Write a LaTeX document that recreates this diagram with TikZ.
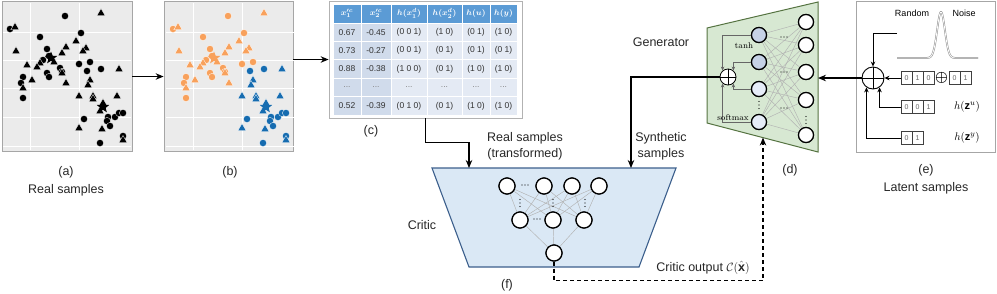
\documentclass[tikz,border=0pt]{standalone}
\usepackage{amsmath,bm}
\usepackage{fontspec}
\setmainfont{Liberation Sans}
\newfontfamily\lmr{Latin Modern Roman}
\usetikzlibrary{arrows.meta,calc,shapes.geometric}
\definecolor{colo}{RGB}{248,161,92}
\definecolor{colb}{RGB}{22,108,176}
\definecolor{plotbg}{RGB}{235,235,235}
\definecolor{thead}{RGB}{91,155,213}
\definecolor{tdk}{RGB}{208,219,235}
\definecolor{tlt}{RGB}{228,234,244}
\definecolor{critfill}{RGB}{218,232,245}
\definecolor{critedge}{RGB}{60,95,140}
\definecolor{genfill}{RGB}{215,232,210}
\definecolor{genedge}{RGB}{85,115,65}
\definecolor{gdark}{RGB}{198,210,230}
\definecolor{glight}{RGB}{230,236,248}
\newcommand\hdt[2]{\foreach \k in {-3,0,3} \fill (#1+\k,#2) circle (0.65pt);}
\newcommand\vdt[2]{\foreach \k in {-3.5,0,3.5} \fill (#1,#2+\k) circle (0.65pt);}
\newcommand\trow[8]{%
  \node[tc,fill=tdk,minimum width=28pt] (#1-1) at (347,#2) {#3};
  \node[tc,fill=tdk,minimum width=30pt] (#1-2) at (376,#2) {#4};
  \node[tc,fill=tlt,minimum width=36pt] (#1-3) at (409,#2) {#5};
  \node[tc,fill=tlt,minimum width=35pt] (#1-4) at (444.5,#2) {#6};
  \node[tc,fill=tlt,minimum width=28pt] (#1-5) at (476,#2) {#7};
  \node[tc,fill=tlt,minimum width=27pt] (#1-6) at (503.5,#2) {#8};}
\begin{document}
\begin{tikzpicture}[x=1pt,y=-1pt,
 lbl/.style={font=\fontsize{12.5}{16}\selectfont, inner sep=0, text=black!85},
 arr/.style={-{Stealth[length=8pt,width=6.5pt]}, line width=1.1pt},
 earr/.style={-{Stealth[length=5pt,width=4.5pt]}, line width=0.9pt},
 garr/.style={-{Stealth[length=4pt,width=3.5pt]}, line width=0.9pt, draw=black!60},
 neuron/.style={circle, draw=black, line width=1.2pt, fill=white, minimum size=16pt, inner sep=0},
 gneuron/.style={neuron, minimum size=15pt},
 conn/.style={draw=black!30, line width=0.45pt},
 panel/.style={draw=black!35, line width=0.8pt, fill=plotbg, inner sep=0},
 tc/.style={rectangle, draw=white, line width=0.9pt, inner sep=0, minimum height=18.4pt, font=\fontsize{8.5}{10}\selectfont, text=black!80},
 th/.style={tc, fill=thead, text=white, minimum height=19pt, font=\fontsize{8}{9}\selectfont},
 bcell/.style={rectangle, draw=black!75, line width=0.6pt, fill=white, minimum width=11pt, minimum height=13pt, inner sep=0, font=\fontsize{7}{8}\selectfont, text=black!60},
]
\useasboundingbox (0,0) rectangle (997,293);

% ---------- panels (a) and (b)
\node[panel, minimum width=130pt, minimum height=150pt] (pa) at (67,76.5) {};
\node[panel, minimum width=129pt, minimum height=150pt] (pb) at (228.5,76.5) {};
\foreach \o in {0,163}{
  \foreach \gx in {30,79} \draw[white, line width=0.9pt] (\gx+\o,3) -- (\gx+\o,150);
  \foreach \gy in {32,60,88,117,146} \draw[white, line width=0.9pt] (3+\o,\gy) -- (131+\o,\gy);
}
\foreach \px/\py/\ty/\c in {
65/16/c/o, 40/37/c/o, 81/33/c/o, 10/29/c/o, 47/49/c/o, 49/56/c/o, 43/60/c/o, 47/73/c/o, 49/77/c/o, 60/68/c/o, 62/72/c/o, 79/64/c/o, 90/62/c/o, 87/71/c/b, 101/69/c/b, 23/77/c/o, 21/83/c/o, 23/98/c/o, 84/119/c/b, 100/143/c/b, 108/117/c/b, 107/121/c/b, 110/126/c/b, 115/117/c/b, 119/113/c/b, 123/113/c/b, 123/136/c/b,
101/13/t/o, 15/27/t/o, 16/51/t/o, 27/65/t/o, 32/80/t/o, 23/88/t/o, 66/47/t/o, 76/41/t/o, 62/53/t/o, 54/62/t/o, 40/63/t/o, 37/67/t/o, 62/73/t/o, 66/83/t/o, 86/48/t/o, 83/51/t/o, 90/80/t/b, 88/85/t/b, 119/69/t/b, 79/96/t/b, 93/96/t/b, 93/99/t/b, 117/96/t/b, 103/103/t/b, 100/111/t/b, 79/128/t/b, 102/129/t/b, 123/140/t/b}{
  \if\ty c
    \fill[black, draw=white, line width=0.3pt] (\px,\py) circle (3.6pt);
    \fill[col\c, draw=white, line width=0.3pt] (\px+163,\py) circle (3.6pt);
  \else
    \fill[black, draw=white, line width=0.3pt] (\px,\py-4.5) -- (\px+4.2,\py+2.7) -- (\px-4.2,\py+2.7) -- cycle;
    \fill[col\c, draw=white, line width=0.3pt] (\px+163,\py-4.5) -- (\px+167.2,\py+2.7) -- (\px+158.8,\py+2.7) -- cycle;
  \fi
}
\node[star, star points=5, star point ratio=2.3, fill=black, inner sep=0, minimum size=13pt] (sa1) at (51,58) {};
\node[star, star points=5, star point ratio=2.3, fill=black, inner sep=0, minimum size=13pt] (sa2) at (103,107) {};
\node[star, star points=5, star point ratio=2.3, fill=colo, inner sep=0, minimum size=13pt] (sb1) at (214,58) {};
\node[star, star points=5, star point ratio=2.3, fill=colb, inner sep=0, minimum size=13pt] (sb2) at (266,107) {};

\node[lbl] (la) at (66,172) {(a)};
\node[lbl] (lra) at (66,190) {Real samples};
\node[lbl] (lb) at (230,172) {(b)};
\draw[arr] (pa.east) -- (pb.west);

% ---------- table (c)
\node[draw=black!30, line width=0.8pt, fill=white, minimum width=193pt, minimum height=117pt, inner sep=0] (tbl) at (425.5,59.5) {};
\node[th,minimum width=28pt] (h-1) at (347,13.5) {$\bm{x^{\prime c}_{1}}$};
\node[th,minimum width=30pt] (h-2) at (376,13.5) {$\bm{x^{\prime c}_{2}}$};
\node[th,minimum width=36pt] (h-3) at (409,13.5) {$\bm{h(x^{d}_{1})}$};
\node[th,minimum width=35pt] (h-4) at (444.5,13.5) {$\bm{h(x^{d}_{2})}$};
\node[th,minimum width=28pt] (h-5) at (476,13.5) {$\bm{h(u)}$};
\node[th,minimum width=27pt] (h-6) at (503.5,13.5) {$\bm{h(y)}$};
\trow{r1}{32.2}{0.67}{-0.45}{(0 0 1)}{(1 0)}{(0 1)}{(1 0)}
\trow{r2}{50.6}{0.73}{-0.27}{(0 0 1)}{(0 1)}{(0 1)}{(0 1)}
\trow{r3}{69.0}{0.88}{-0.38}{(1 0 0)}{(0 1)}{(1 0)}{(1 0)}
\trow{r4}{87.4}{\color{black!50}...}{\color{black!50}...}{\color{black!50}...}{\color{black!50}...}{\color{black!50}...}{\color{black!50}...}
\trow{r5}{105.8}{0.52}{-0.39}{(0 1 0)}{(0 1)}{(1 0)}{(1 0)}
\node[lbl] (lc) at (371,131) {(c)};
\draw[arr] (pb.east |- tbl.west) -- (tbl.west);

% ---------- critic (f)
\draw[fill=critfill, draw=critedge, line width=1.1pt] (432,168) -- (676,168) -- (639,267) -- (469,267) -- cycle;
\coordinate (realin) at (469,168);
\coordinate (synin) at (631,168);
\node[neuron] (c1) at (507,186) {};
\node[neuron] (c2) at (544,186) {};
\node[neuron] (c3) at (572,186) {};
\node[neuron] (c4) at (599,186) {};
\node[neuron] (m1) at (520,220) {};
\node[neuron] (m2) at (553,220) {};
\node[neuron] (m3) at (584,220) {};
\node[neuron] (co) at (554,253) {};
\foreach \a in {c1,c2,c3,c4} \foreach \b in {m1,m2,m3} \draw[conn] (\a) -- (\b);
\foreach \b in {m1,m2,m3} \draw[conn] (\b) -- (co);
\foreach \n in {c1,c2,c3,c4,m1,m2,m3,co} \node[neuron] at (\n) {};
\hdt{525}{185}
\hdt{537}{219}
\vdt{520}{203}
\vdt{553}{203}
\vdt{585}{203}
\node[lbl] (lcrit) at (422,225) {Critic};
\node[lbl] (lf) at (507,285) {(f)};
\node[lbl, align=center] (lreal) at (525,146) {Real samples\\(transformed)};
\node[lbl, align=center] (lsyn) at (661,146) {Synthetic\\samples};
\draw[arr] (tbl.south) -- ++(0,24) -| (realin);

% ---------- generator (d)
\draw[fill=genfill, draw=genedge, line width=1pt] (707,28) -- (818,2) -- (818,152) -- (707,123) -- cycle;
\coordinate (genright) at (818,78);
\coordinate (genbot) at (763,137.6);
\node[gneuron, fill=gdark] (g1) at (759,35) {};
\node[gneuron, fill=gdark] (g2) at (759,62) {};
\node[gneuron, fill=glight] (g3) at (759,89) {};
\node[gneuron, fill=glight] (g4) at (759,122) {};
\node[gneuron] (q1) at (806,22) {};
\node[gneuron] (q2) at (806,45) {};
\node[gneuron] (q3) at (806,72) {};
\node[gneuron] (q4) at (806,100) {};
\node[gneuron] (q5) at (806,135) {};
\foreach \a in {g1,g2,g3,g4} \foreach \b in {q1,q2,q3,q4,q5} \draw[conn] (\a) -- (\b);
\node[gneuron, fill=gdark] at (g1) {};
\node[gneuron, fill=gdark] at (g2) {};
\node[gneuron, fill=glight] at (g3) {};
\node[gneuron, fill=glight] at (g4) {};
\foreach \n in {q1,q2,q3,q4,q5} \node[gneuron] at (\n) {};
\hdt{784}{37}
\hdt{784}{72}
\hdt{784}{108}
\vdt{759}{105}
\vdt{806}{120}
\node[circle, draw=black, line width=0.8pt, fill=white, minimum size=16pt, inner sep=0] (gplus) at (728,77) {};
\draw[line width=0.8pt] (gplus.north) -- (gplus.south) (gplus.west) -- (gplus.east);
\draw[garr] (g1.west) -| (gplus.130);
\draw[garr] (g2.west) -| (gplus.50);
\draw[garr] (g3.west) -| (gplus.-50);
\draw[garr] (g4.west) -| (gplus.-130);
\node[inner sep=0, font=\lmr\fontsize{8.5}{10}\selectfont] (ltanh) at (744,46) {tanh};
\node[inner sep=0, font=\lmr\fontsize{8.5}{10}\selectfont] (lsoft) at (733,118) {softmax};
\node[lbl] (lgen) at (661,42) {Generator};
\node[lbl] (ld) at (790,170) {(d)};
\draw[arr] (gplus.west) -| (synin);
\draw[arr, dashed, dash pattern=on 4pt off 3pt] (co.south) -- ++(0,19) -| (genbot);
\node[lbl] (lcout) at (703,268) {Critic output $\mathcal{C}(\hat{\mathbf{x}})$};

% ---------- latent (e)
\node[draw=black!35, line width=0.8pt, fill=white, minimum width=139pt, minimum height=151pt, inner sep=0] (pe) at (925.5,76.5) {};
\node[circle, draw=black, line width=0.9pt, fill=white, minimum size=22pt, inner sep=0] (eplus) at (873,78) {};
\draw[line width=0.9pt] (eplus.north) -- (eplus.south) (eplus.west) -- (eplus.east);
\draw[draw=black!45, double=white, double distance=0.8pt, line width=0.5pt] (897,58) -- (925,58) -- plot[domain=925:957, samples=60] (\x, {58-46*exp(-((\x-941)/5.5)^2)}) -- (978,58);
\node[inner sep=0, font=\fontsize{9}{10}\selectfont] (lrand) at (912,13) {Random};
\node[inner sep=0, font=\fontsize{9}{10}\selectfont] (lnoise) at (964,13) {Noise};
\coordinate (ntop) at (897,33);
\node[bcell] (b1a) at (906.5,78) {0};
\node[bcell] (b1b) at (917.5,78) {1};
\node[bcell] (b1c) at (928.5,78) {0};
\node[inner sep=0, font=\fontsize{14}{14}\selectfont] (opl) at (941.5,78) {$\bm{\oplus}$};
\node[bcell] (b4a) at (954.5,78) {0};
\node[bcell] (b4b) at (965.5,78) {1};
\node[bcell] (b2a) at (906.5,107) {0};
\node[bcell] (b2b) at (917.5,107) {0};
\node[bcell] (b2c) at (928.5,107) {1};
\node[bcell] (b3a) at (906.5,138) {0};
\node[bcell] (b3b) at (917.5,138) {1};
\node[inner sep=0, font=\fontsize{11}{12}\selectfont] (lhu) at (967,107) {$h(\mathbf{z}^{u})$};
\node[inner sep=0, font=\fontsize{11}{12}\selectfont] (lhy) at (967,138) {$h(\mathbf{z}^{y})$};
\draw[earr] (ntop) -| (eplus.north);
\draw[earr] (b1a.west) -- (eplus.east);
\draw[earr] (b2a.west) -| (eplus.-55);
\draw[earr] (b3a.west) -| (eplus.-125);
\draw[arr] (eplus.west) -- (genright);
\node[lbl] (le) at (926,170) {(e)};
\node[lbl] (llat) at (926,188) {Latent samples};
\end{tikzpicture}
\end{document}
